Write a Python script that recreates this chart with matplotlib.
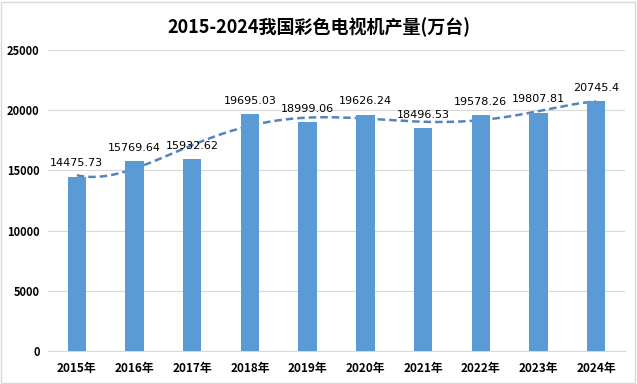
import numpy as np
import matplotlib
matplotlib.use("Agg")
import matplotlib.pyplot as plt
from matplotlib.patches import Rectangle

plt.rcParams['font.family'] = ['Noto Sans CJK SC', 'DejaVu Sans']

years = ["2015年", "2016年", "2017年", "2018年", "2019年", "2020年", "2021年", "2022年", "2023年", "2024年"]
values = [14475.73, 15769.64, 15932.62, 19695.03, 18999.06, 19626.24, 18496.53, 19578.26, 19807.81, 20745.4]
labels = ["14475.73", "15769.64", "15932.62", "19695.03", "18999.06", "19626.24", "18496.53", "19578.26", "19807.81", "20745.4"]
title = "2015-2024我国彩色电视机产量(万台)"

W, H = 637, 384
fig = plt.figure(figsize=(W / 100, H / 100), dpi=100)
fig.patch.set_facecolor("white")
fig.add_artist(Rectangle((0.002, 0.003), 0.995, 0.993, transform=fig.transFigure,
                         fill=False, edgecolor="#d9d9d9", linewidth=1))

left, right = 48 / W, 625 / W
bottom, top = 1 - 351 / H, 1 - 50 / H
ax = fig.add_axes([left, bottom, right - left, top - bottom])

x = np.arange(len(values))
bar_color = "#5B9BD5"
ax.bar(x, values, width=0.32, color=bar_color, zorder=3)

# polynomial trend line (Excel-style) computed from the data
coef = np.polyfit(x, values, 5)
xs = np.linspace(0, len(values) - 1, 300)
ax.plot(xs, np.polyval(coef, xs), linestyle=(0, (3, 1.6)), color="#5285BF",
        linewidth=1.8, zorder=2)

for xi, v, lab in zip(x, values, labels):
    ax.annotate(lab, (xi, v), xytext=(0, 6), textcoords="offset points",
                ha="center", va="bottom", fontsize=8, color="#000000",
                family=["DejaVu Sans"], zorder=5)

ax.set_xlim(-0.5, len(values) - 0.5)
ax.set_ylim(0, 25000)
ax.set_yticks(np.arange(0, 25001, 5000))
ax.set_xticks(x)
ax.set_xticklabels(years, fontsize=8.5, fontweight="bold")
ax.set_yticklabels([str(int(t)) for t in np.arange(0, 25001, 5000)], fontsize=8, fontweight="bold")
ax.yaxis.grid(True, color="#d9d9d9", linewidth=0.8, zorder=0)
ax.set_axisbelow(True)
for s in ["top", "right", "left"]:
    ax.spines[s].set_visible(False)
ax.spines["bottom"].set_color("#d9d9d9")
ax.tick_params(axis="both", length=0, pad=6)
ax.tick_params(axis="x", pad=8)

fig.text(0.5, 1 - 27 / H, title, ha="center", va="center", fontsize=13, fontweight="bold")

fig.savefig("out.png", dpi=100, facecolor="white")
